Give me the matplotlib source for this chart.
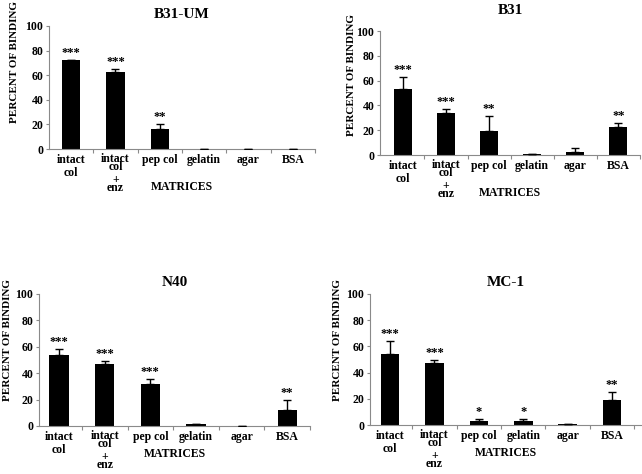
import matplotlib
matplotlib.use("Agg")
import matplotlib.pyplot as plt

# =============================================================================
# Data
# =============================================================================

CATEGORIES = ["intact col", "intact col + enz", "pep col", "gelatin", "agar", "BSA"]

B31UM_MEAN = [72, 62.5, 16, 0.3, 0.3, 0.3]
B31UM_ERR = [0, 2.3, 4, 0, 0, 0]
B31UM_STARS = ["***", "***", "**", "", "", ""]

B31_MEAN = [53.5, 34, 19, 0.8, 2.7, 22.5]
B31_ERR = [9.5, 3.3, 12.5, 0, 3.2, 3]
B31_STARS = ["***", "***", "**", "", "", "**"]

N40_MEAN = [54, 47, 31.5, 1.2, 0.2, 12.5]
N40_ERR = [4.3, 2.2, 4, 0, 0, 7]
N40_STARS = ["***", "***", "***", "", "", "**"]

MC1_MEAN = [54.5, 47.5, 3.4, 3.4, 1, 19]
MC1_ERR = [9.5, 2.5, 1, 1, 0, 6]
MC1_STARS = ["***", "***", "*", "*", "", "**"]

YTICKS = [0, 20, 40, 60, 80, 100]

# =============================================================================
# Style
# =============================================================================

FONT = "Liberation Serif"
SPINE_COLOR = "#8a8a8a"
plt.rcParams["font.family"] = [FONT, "DejaVu Serif"]
plt.rcParams["font.weight"] = "bold"

W, H = 642, 474
PT = 0.72  # points per pixel at dpi 100


def px_rect(left, right, bottom, top):
    return [left / W, 1 - bottom / H, (right - left) / W, (bottom - top) / H]


PANELS = [
    # title, means, errs, stars, rect, xlim, title pad, ylabel x(px), ylabel frac, matrices dy(px)
    ("B31-UM", B31UM_MEAN, B31UM_ERR, B31UM_STARS,
     px_rect(49, 315, 149, 26), (-0.5, 5.5), 6, 15, 0.71, 38),
    ("B31", B31_MEAN, B31_ERR, B31_STARS,
     px_rect(380, 640, 155, 31), (-0.53, 5.41), 12, 351, 0.645, 38),
    ("N40", N40_MEAN, N40_ERR, N40_STARS,
     px_rect(39, 310, 426, 294), (-0.44, 5.5), 6, 8, 0.65, 28),
    ("MC-1", MC1_MEAN, MC1_ERR, MC1_STARS,
     px_rect(370, 641, 425, 294), (-0.45, 5.65), 6, 338, 0.65, 28),
]

fig = plt.figure(figsize=(6.42, 4.74), dpi=100, facecolor="white")

for title, means, errs, stars, rect, xlim, tpad, ylab_x, ylab_f, mat_dy in PANELS:
    ax = fig.add_axes(rect)
    x = list(range(len(CATEGORIES)))
    ax.bar(x, means, width=0.42, color="black", zorder=2)
    ax.errorbar(x, means, yerr=[[0] * len(errs), errs], fmt="none",
                ecolor="black", elinewidth=1, capsize=3, capthick=1, zorder=3)

    ax.set_xlim(*xlim)
    ax.set_ylim(0, 100)
    ax.set_yticks(YTICKS)
    ax.set_yticklabels([str(t) for t in YTICKS], fontsize=8.5, fontweight="bold")
    ax.set_xticks([i + 0.5 for i in range(len(CATEGORIES))])
    ax.set_xticklabels([])
    ax.tick_params(axis="x", direction="out", length=3, color=SPINE_COLOR)
    ax.tick_params(axis="y", direction="out", length=2, color=SPINE_COLOR, pad=2)

    for side in ("top", "right"):
        ax.spines[side].set_visible(False)
    for side in ("left", "bottom"):
        ax.spines[side].set_color(SPINE_COLOR)
        ax.spines[side].set_linewidth(0.8)

    ax.set_title(title, fontsize=11, fontweight="bold", pad=tpad)

    # significance stars above mean + error
    for i, (m, e, s) in enumerate(zip(means, errs, stars)):
        if s:
            ax.annotate(s, xy=(i, m + e), xytext=(0, 5), textcoords="offset points",
                        ha="center", va="center", fontsize=9, fontweight="bold")

    # category labels (multi-line, hand stacked like the original)
    lab_kw = dict(xycoords=("data", "axes fraction"), textcoords="offset points",
                  ha="center", va="center", fontsize=8.5, fontweight="bold")
    for i, cat in enumerate(CATEGORIES):
        if cat == "intact col":
            ax.annotate("intact", xy=(i, 0), xytext=(0, -11 * PT), **lab_kw)
            ax.annotate("col", xy=(i, 0), xytext=(0, -24 * PT), **lab_kw)
        elif cat == "intact col + enz":
            ax.annotate("intact", xy=(i, 0), xytext=(0, -10 * PT), **lab_kw)
            ax.annotate("col", xy=(i, 0), xytext=(0, -18 * PT), **lab_kw)
            ax.annotate("+", xy=(i, 0), xytext=(0, -31 * PT), **lab_kw)
            ax.annotate("enz", xy=(i, 0), xytext=(0, -39 * PT), **lab_kw)
        else:
            ax.annotate(cat, xy=(i, 0), xytext=(0, -11 * PT), **lab_kw)

    ax.annotate("MATRICES", xy=(0.5, 0), xycoords="axes fraction",
                xytext=(0, -mat_dy * PT), textcoords="offset points",
                ha="center", va="center", fontsize=8.5, fontweight="bold")

    # y label at a fixed pixel column
    bbox = ax.get_position()
    fig.text(ylab_x / W, bbox.y0 + bbox.height * ylab_f, "PERCENT OF BINDING",
             rotation=90, ha="center", va="center", fontsize=8, fontweight="bold")

fig.savefig("out.png", dpi=100, facecolor="white")
